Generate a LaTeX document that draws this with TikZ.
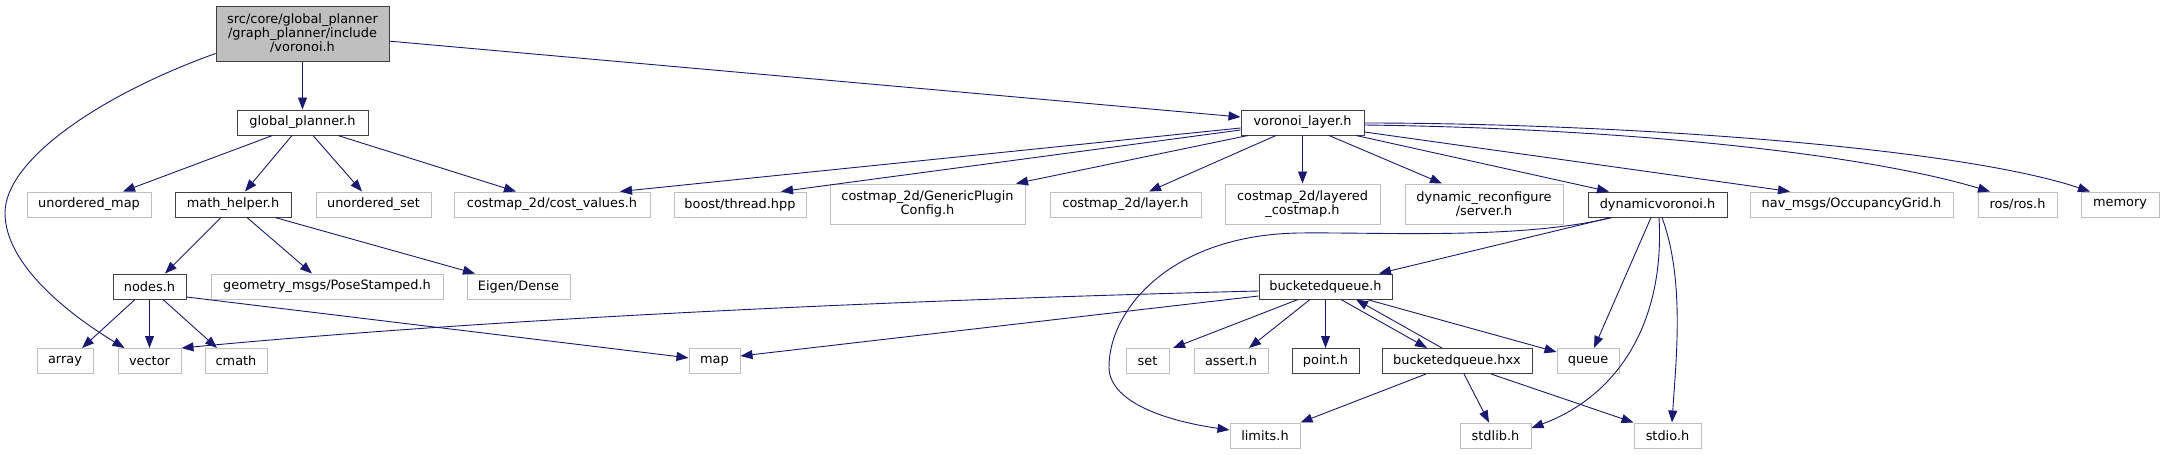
\documentclass[tikz,border=0pt]{standalone}
\usepackage{fontspec}
\setmainfont{DejaVu Sans}
\usepackage{tikz}
\usetikzlibrary{arrows.meta}
\definecolor{edgeColor}{HTML}{191970}
\definecolor{docBorder}{HTML}{404040}
\definecolor{extBorder}{HTML}{BFBFBF}
\definecolor{rootFill}{HTML}{BFBFBF}

\begin{document}
\begin{tikzpicture}[x=1pt, y=-1pt,
    box/.style={rectangle, inner sep=0pt, minimum height=25pt, line width=1pt,
        font=\fontsize{12.9}{14}\selectfont, align=center},
    docNode/.style={box, draw=docBorder, fill=white},
    extNode/.style={box, draw=extBorder, fill=white},
    rootNode/.style={box, draw=docBorder, fill=rootFill, minimum height=55pt},
    tallNode/.style={minimum height=40pt},
    incEdge/.style={draw=edgeColor, line width=0.9pt, -{Triangle[length=12pt, width=9pt]}}]
    \useasboundingbox (0,0) rectangle (2164,455);
    % the file itself
    \node[rootNode, minimum width=173pt] (voronoi) at (302.5,33.5)
        {src/core/global\_planner\\/graph\_planner/include\\/voronoi.h};
    % rank 1
    \node[docNode, minimum width=131pt] (globalPlanner) at (302.5,122.5) {global\_planner.h};
    \node[docNode, minimum width=123pt] (voronoiLayer) at (1302.5,122.5) {voronoi\_layer.h};
    % rank 2
    \node[extNode, minimum width=124pt] (unorderedMap) at (89,204.5) {unordered\_map};
    \node[docNode, minimum width=116pt] (mathHelper) at (233,204.5) {math\_helper.h};
    \node[extNode, minimum width=115pt] (unorderedSet) at (373.5,204.5) {unordered\_set};
    \node[extNode, minimum width=196pt] (costValues) at (552,204.5) {costmap\_2d/cost\_values.h};
    \node[extNode, minimum width=132pt] (boostThread) at (740,204.5) {boost/thread.hpp};
    \node[extNode, tallNode, minimum width=195pt] (pluginConfig) at (927.5,204)
        {costmap\_2d/GenericPlugin\\Config.h};
    \node[extNode, minimum width=151pt] (layerH) at (1125.5,204.5) {costmap\_2d/layer.h};
    \node[extNode, tallNode, minimum width=155pt] (layeredCostmap) at (1302.5,204)
        {costmap\_2d/layered\\\_costmap.h};
    \node[extNode, tallNode, minimum width=158pt] (dynReconf) at (1484,204)
        {dynamic\_reconfigure\\/server.h};
    \node[docNode, minimum width=139pt] (dynVoronoi) at (1657.5,204.5) {dynamicvoronoi.h};
    \node[extNode, minimum width=203pt] (occGrid) at (1851.5,204.5) {nav\_msgs/OccupancyGrid.h};
    \node[extNode, minimum width=79pt] (rosH) at (2017.5,204.5) {ros/ros.h};
    \node[extNode, minimum width=78pt] (memory) at (2120,204.5) {memory};
    % rank 3
    \node[docNode, minimum width=73pt] (nodesH) at (149.5,286.5) {nodes.h};
    \node[extNode, minimum width=232pt] (poseStamped) at (327,286.5) {geometry\_msgs/PoseStamped.h};
    \node[extNode, minimum width=103pt] (eigenDense) at (518.5,286.5) {Eigen/Dense};
    \node[docNode, minimum width=133pt] (bucketQueue) at (1325.5,286.5) {bucketedqueue.h};
    % rank 4
    \node[extNode, minimum width=56pt] (arrayH) at (65,361) {array};
    \node[extNode, minimum width=63pt] (vectorH) at (149.5,361) {vector};
    \node[extNode, minimum width=62pt] (cmathH) at (236,361) {cmath};
    \node[extNode, minimum width=51pt] (mapH) at (714.5,361) {map};
    \node[extNode, minimum width=43pt] (setH) at (1147.5,361) {set};
    \node[extNode, minimum width=74pt] (assertH) at (1231,361) {assert.h};
    \node[docNode, minimum width=67pt] (pointH) at (1325.5,361) {point.h};
    \node[docNode, minimum width=150pt] (bucketQueueHxx) at (1457,361) {bucketedqueue.hxx};
    \node[extNode, minimum width=62pt] (queueH) at (1588,361) {queue};
    % rank 5
    \node[extNode, minimum width=70pt] (limitsH) at (1265,435.5) {limits.h};
    \node[extNode, minimum width=71pt] (stdlibH) at (1495.5,435.5) {stdlib.h};
    \node[extNode, minimum width=67pt] (stdioH) at (1667.5,435.5) {stdio.h};

    % includes of voronoi.h
    \draw[incEdge] (voronoi) -- (globalPlanner);
    \draw[incEdge] (voronoi) -- (voronoiLayer);
    \draw[incEdge] ([yshift=-20pt]voronoi.west) .. controls (100,95) and (5,160) .. (5,213)
        .. controls (5,265) and (70,315) .. ([xshift=-25pt]vectorH.north);
    % global_planner.h
    \draw[incEdge] ([xshift=-30pt]globalPlanner.south) -- ([xshift=34pt]unorderedMap.north);
    \draw[incEdge] ([xshift=-10.5pt]globalPlanner.south) -- ([xshift=12pt]mathHelper.north);
    \draw[incEdge] ([xshift=10.5pt]globalPlanner.south) -- ([xshift=-11.5pt]unorderedSet.north);
    \draw[incEdge] ([xshift=35.5pt]globalPlanner.south) -- ([xshift=-36pt]costValues.north);
    % math_helper.h and nodes.h
    \draw[incEdge] ([xshift=-12pt]mathHelper.south) -- ([xshift=15.5pt]nodesH.north);
    \draw[incEdge] ([xshift=14pt]mathHelper.south) -- ([xshift=-15pt]poseStamped.north);
    \draw[incEdge] ([xshift=42pt]mathHelper.south) -- ([xshift=-43.5pt]eigenDense.north);
    \draw[incEdge] ([xshift=-14.5pt]nodesH.south) -- ([xshift=17pt]arrayH.north);
    \draw[incEdge] (nodesH) -- (vectorH);
    \draw[incEdge] ([xshift=13.5pt]nodesH.south) -- ([xshift=-19pt]cmathH.north);
    \draw[incEdge] ([yshift=-10.5pt]nodesH.east) -- (mapH);
    % voronoi_layer.h
    \draw[incEdge] ([yshift=-5.5pt]voronoiLayer.west) -- ([xshift=68pt]costValues.north);
    \draw[incEdge] ([yshift=-7.5pt]voronoiLayer.west) -- ([xshift=41pt]boostThread.north);
    \draw[incEdge] ([xshift=-54.5pt]voronoiLayer.south) -- ([xshift=88.5pt]pluginConfig.north);
    \draw[incEdge] ([xshift=-26.5pt]voronoiLayer.south) -- ([xshift=23.5pt]layerH.north);
    \draw[incEdge] (voronoiLayer) -- (layeredCostmap);
    \draw[incEdge] ([xshift=26.5pt]voronoiLayer.south) -- ([xshift=-42pt]dynReconf.north);
    \draw[incEdge] ([xshift=53.5pt]voronoiLayer.south) -- ([xshift=-48.5pt]dynVoronoi.north);
    \draw[incEdge] ([yshift=-9.5pt]voronoiLayer.east) -- ([xshift=-61.5pt]occGrid.north);
    \draw[incEdge] ([yshift=-2.5pt]voronoiLayer.east) .. controls (1600,128) and (1850,150)
        .. ([xshift=-27.5pt]rosH.north);
    \draw[incEdge] ([yshift=-0.5pt]voronoiLayer.east) .. controls (1600,123) and (1950,145)
        .. ([xshift=-30pt]memory.north);
    % dynamicvoronoi.h
    \draw[incEdge] ([xshift=-46.5pt]dynVoronoi.south) -- ([xshift=53.5pt]bucketQueue.north);
    \draw[incEdge] ([xshift=-45.5pt]dynVoronoi.south) .. controls (1520,240) and (1380,232) .. (1299,233)
        .. controls (1170,235) and (1109,310) .. (1109,367)
        .. controls (1109,400) and (1160,420) .. ([yshift=5.5pt]limitsH.west);
    \draw[incEdge] ([xshift=-6.5pt]dynVoronoi.south) -- ([xshift=6pt]queueH.north);
    \draw[incEdge] ([xshift=1.5pt]dynVoronoi.south) .. controls (1665,320) and (1620,395)
        .. ([yshift=7.5pt]stdlibH.east);
    \draw[incEdge] ([xshift=4.5pt]dynVoronoi.south) .. controls (1685,280) and (1676,360)
        .. ([xshift=4.5pt]stdioH.north);
    % bucketedqueue.h and bucketedqueue.hxx
    \draw[incEdge] ([yshift=-4.5pt]bucketQueue.west) .. controls (900,300) and (500,318)
        .. (vectorH.north east);
    \draw[incEdge] ([yshift=-9.5pt]bucketQueue.west) -- ([yshift=5pt]mapH.east);
    \draw[incEdge] ([xshift=-27.5pt]bucketQueue.south) -- ([xshift=25.5pt]setH.north);
    \draw[incEdge] ([xshift=-15.5pt]bucketQueue.south) -- ([xshift=18pt]assertH.north);
    \draw[incEdge] (bucketQueue) -- (pointH);
    \draw[incEdge] ([xshift=15.5pt]bucketQueue.south) -- ([xshift=-30pt]bucketQueueHxx.north);
    \draw[incEdge] ([xshift=-15pt]bucketQueueHxx.north) -- ([xshift=30.5pt]bucketQueue.south);
    \draw[incEdge] ([xshift=41.5pt]bucketQueue.south) -- ([yshift=-4pt]queueH.north west);
    \draw[incEdge] ([xshift=-31pt]bucketQueueHxx.south) -- (limitsH.north east);
    \draw[incEdge] ([xshift=7pt]bucketQueueHxx.south) -- ([xshift=-6.5pt]stdlibH.north);
    \draw[incEdge] ([xshift=34pt]bucketQueueHxx.south) -- (stdioH.north west);
\end{tikzpicture}
\end{document}
